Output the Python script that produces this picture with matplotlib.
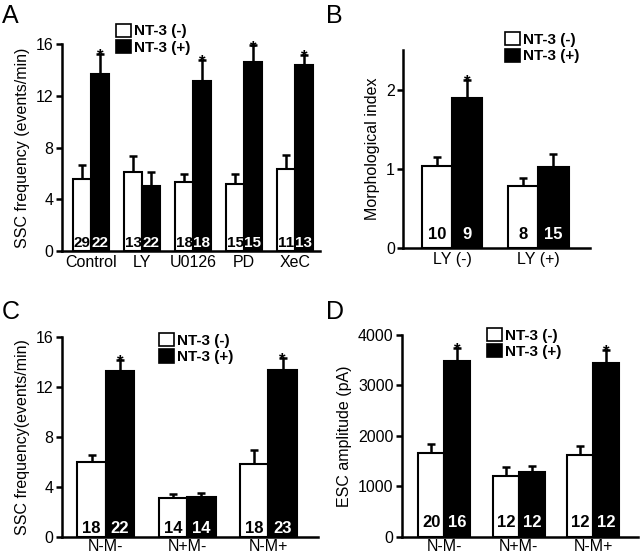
import numpy as np
import matplotlib
matplotlib.use("Agg")
import matplotlib.pyplot as plt
from matplotlib.patches import Patch

plt.rcParams['font.family'] = ['Liberation Sans', 'DejaVu Sans']
plt.rcParams['font.size'] = 11.5

# Panel A data
a_groups = ["Control", "LY", "U0126", "PD", "XeC"]
a_minus = [5.56, 6.13, 5.31, 5.2, 6.31]
a_minus_err = [1.1, 1.2, 0.64, 0.8, 1.1]
a_plus = [13.73, 5.05, 13.19, 14.66, 14.37]
a_plus_err = [1.55, 1.03, 1.6, 1.25, 0.8]
a_n_minus = ["29", "13", "18", "15", "11"]
a_n_plus = ["22", "22", "18", "15", "13"]
a_star = [True, False, True, True, True]

# Panel B data
b_groups = ["LY (-)", "LY (+)"]
b_minus = [1.04, 0.78]
b_minus_err = [0.11, 0.11]
b_plus = [1.90, 1.025]
b_plus_err = [0.22, 0.16]
b_n_minus = ["10", "8"]
b_n_plus = ["9", "15"]
b_star = [True, False]

# Panel C data
c_groups = ["N-M-", "N+M-", "N-M+"]
c_minus = [5.99, 3.1, 5.86]
c_minus_err = [0.61, 0.32, 1.1]
c_plus = [13.3, 3.24, 13.36]
c_plus_err = [0.9, 0.29, 0.95]
c_n_minus = ["18", "14", "18"]
c_n_plus = ["22", "14", "23"]
c_star = [True, False, True]

# Panel D data
d_groups = ["N-M-", "N+M-", "N-M+"]
d_minus = [1655, 1204, 1615]
d_minus_err = [178, 185, 185]
d_plus = [3492, 1278, 3452]
d_plus_err = [246, 131, 252]
d_n_minus = ["20", "12", "12"]
d_n_plus = ["16", "12", "12"]
d_star = [True, False, True]


def panel(ax, groups, minus, minus_err, plus, plus_err, n_minus, n_plus,
          stars, ylim, yticks, ylabel, xlim, n_y, n_size, leg_xy, xpad=3):
    x = np.arange(len(groups))
    w = 0.35
    ax.bar(x - w / 2, minus, w, color="white", edgecolor="black", linewidth=1.5, zorder=2)
    ax.bar(x + w / 2, plus, w, color="black", edgecolor="black", linewidth=1.5, zorder=2)
    z = np.zeros(len(groups))
    ax.errorbar(x - w / 2, minus, yerr=[z, minus_err], fmt="none", ecolor="black",
                elinewidth=1.8, capsize=3, capthick=1.8, zorder=1)
    ax.errorbar(x + w / 2, plus, yerr=[z, plus_err], fmt="none", ecolor="black",
                elinewidth=1.8, capsize=3, capthick=1.8, zorder=1)
    tr = ax.get_xaxis_transform()
    for i in range(len(groups)):
        ax.text(x[i] - w / 2, n_y, n_minus[i], ha="center", va="center",
                color="black", fontsize=n_size, fontweight="bold", transform=tr, zorder=3)
        ax.text(x[i] + w / 2, n_y, n_plus[i], ha="center", va="center",
                color="white", fontsize=n_size, fontweight="bold", transform=tr, zorder=3)
        if stars[i]:
            ax.annotate("*", (x[i] + w / 2, plus[i] + plus_err[i]), xytext=(0, -5),
                        textcoords="offset points", ha="center", va="baseline",
                        fontsize=12, fontweight="bold")
    ax.set_xticks(x)
    ax.set_xticklabels(groups)
    ax.set_xlim(*xlim)
    ax.set_ylim(*ylim)
    ax.set_yticks(yticks)
    ax.set_ylabel(ylabel)
    for s in ["top", "right"]:
        ax.spines[s].set_visible(False)
    for s in ["left", "bottom"]:
        ax.spines[s].set_linewidth(1.8)
    ax.tick_params(axis="x", length=0, pad=xpad)
    ax.tick_params(axis="y", length=4, width=1.8, pad=2)
    handles = [Patch(facecolor="white", edgecolor="black", linewidth=1.2),
               Patch(facecolor="black", edgecolor="black", linewidth=1.2)]
    ax.legend(handles, ["NT-3 (-)", "NT-3 (+)"], loc="upper left", bbox_to_anchor=leg_xy,
              frameon=False, handlelength=1.0, handleheight=0.95, handletextpad=0.15,
              labelspacing=0.1, borderaxespad=0, borderpad=0,
              prop={"size": 11, "weight": "bold"})


fig = plt.figure(figsize=(6.4, 5.53), dpi=100)

axA = fig.add_axes([0.0969, 0.546, 0.403, 0.374])
panel(axA, a_groups, a_minus, a_minus_err, a_plus, a_plus_err, a_n_minus, a_n_plus,
      a_star, (0, 16), [0, 4, 8, 12, 16], "SSC frequency (events/min)",
      (-0.57, 4.49), 0.04, 11, (0.21, 1.10))

axB = fig.add_axes([0.630, 0.5515, 0.292, 0.358])
panel(axB, b_groups, b_minus, b_minus_err, b_plus, b_plus_err, b_n_minus, b_n_plus,
      b_star, (0, 2.5), [0, 1, 2], "Morphological index",
      (-0.57, 1.6), 0.066, 12, (0.545, 1.09))

axC = fig.add_axes([0.0969, 0.0289, 0.4, 0.3617])
panel(axC, c_groups, c_minus, c_minus_err, c_plus, c_plus_err, c_n_minus, c_n_plus,
      c_star, (0, 16), [0, 4, 8, 12, 16], "SSC frequency(events/min)",
      (-0.54, 2.61), 0.045, 12, (0.379, 1.02), xpad=1.5)

axD = fig.add_axes([0.628, 0.0295, 0.369, 0.3647])
panel(axD, d_groups, d_minus, d_minus_err, d_plus, d_plus_err, d_n_minus, d_n_plus,
      d_star, (0, 4000), [0, 1000, 2000, 3000, 4000], "ESC amplitude (pA)",
      (-0.57, 2.6), 0.07, 12, (0.36, 1.035), xpad=1.5)

for lab, (px, py) in zip("ABCD", [(2, 4), (326, 4), (2, 300), (326, 300)]):
    fig.text(px / 640, 1 - py / 553, lab, fontsize=18, ha="left", va="top")

fig.savefig("out.png", dpi=100)
